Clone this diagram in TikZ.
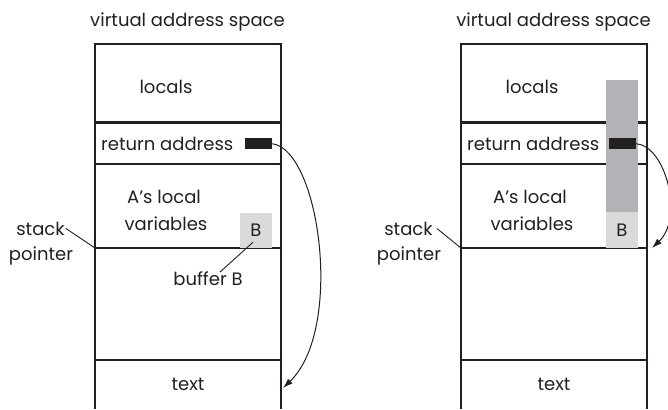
\documentclass[tikz,border=0pt]{standalone}
\usepackage{fontspec}
\setmainfont{Poppins}
\usetikzlibrary{arrows.meta}

\definecolor{ink}{HTML}{231F20}
\definecolor{bargray}{HTML}{B1B3B6}
\definecolor{bufgray}{HTML}{D9DADC}

\begin{document}
\begin{tikzpicture}[x=1pt,y=-1pt,>=Latex,
  lbl/.style={inner sep=0pt,text=ink,font=\fontsize{18}{20}\selectfont},
  frame/.style={draw=ink,line width=2.8pt},
  lead/.style={draw=ink,line width=0.9pt},
  jump/.style={draw=ink,line width=1pt,-{Latex[length=10pt,width=6.5pt]}},
  retmark/.style={fill=ink,inner sep=0pt,minimum width=27pt,minimum height=11.5pt},
  bufbox/.style={fill=bufgray,inner sep=0pt,minimum width=32pt,minimum height=35.5pt,text=ink,font=\fontsize{18}{20}\selectfont}]
\useasboundingbox (0,0) rectangle (668,409);

% left: before the overflow
\draw[frame] (95,409) -- (95,44) -- (281,44) -- (281,409);
\draw[frame] (95,122.5) -- (281,122.5);
\draw[frame] (95,164) -- (281,164);
\draw[frame] (95,248) -- (281,248);
\draw[frame] (95,360) -- (281,360);
\node[lbl,anchor=base] (titleL) at (187.5,27) {virtual address space};
\node[lbl,anchor=base] (locL) at (166,93) {locals};
\node[lbl,anchor=base west] (raL) at (101,150) {return address};
\node[retmark] (retL) at (258.5,143.7) {};
\node[lbl,anchor=base] (avL1) at (164,203) {A’s local};
\node[lbl,anchor=base] (avL2) at (166,230) {variables};
\node[bufbox] (bL) at (256,230.3) {B};
\node[lbl,anchor=base] (bufL) at (208,285) {buffer B};
\node[lbl,anchor=base] (txtL) at (188,390) {text};
\node[lbl,anchor=base,inner sep=1pt] (stkL) at (40.5,235) {stack};
\node[lbl,anchor=base] (ptrL) at (41,260) {pointer};
\coordinate (spL) at (95,248);
\coordinate (tgtL) at (283,388);
\draw[lead] (stkL.east) -- (spL);
\draw[lead] ([xshift=12pt,yshift=-1pt]bufL.north) -- ([xshift=-3pt,yshift=6pt]bL.south);
\draw[jump] (retL.east) .. controls (320,150) and (344,330) .. (tgtL);

% right: after the overflow
\draw[frame] (461,409) -- (461,44) -- (647,44) -- (647,409);
\draw[frame] (461,122.5) -- (647,122.5);
\draw[frame] (461,164) -- (647,164);
\draw[frame] (461,248) -- (647,248);
\draw[frame] (461,360) -- (647,360);
\fill[bargray] (606,80) rectangle (638,212);
\node[lbl,anchor=base] (titleR) at (553.5,27) {virtual address space};
\node[lbl,anchor=base] (locR) at (532,93) {locals};
\node[lbl,anchor=base west] (raR) at (467,150) {return address};
\node[retmark] (retR) at (622.5,143.7) {};
\node[lbl,anchor=base] (avR1) at (530,203) {A’s local};
\node[lbl,anchor=base] (avR2) at (532,230) {variables};
\node[bufbox,minimum height=36pt] (bR) at (622,230) {B};
\node[lbl,anchor=base] (txtR) at (554,390) {text};
\node[lbl,anchor=base,inner sep=4pt] (stkR) at (408.5,235) {stack};
\node[lbl,anchor=base] (ptrR) at (409,260) {pointer};
\coordinate (spR) at (461,248);
\coordinate (tgtR) at (652,248);
\draw[lead] (stkR.east) -- (spR);
\draw[jump] (retR.east) .. controls (666,146) and (684,218) .. (tgtR);
\end{tikzpicture}
\end{document}
